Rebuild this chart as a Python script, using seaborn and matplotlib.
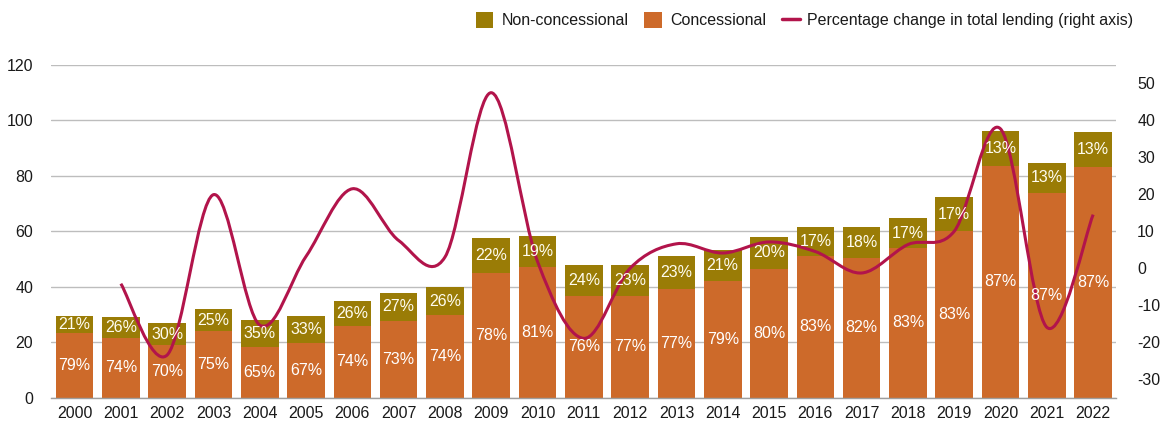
import numpy as np
import pandas as pd
import matplotlib
matplotlib.use("Agg")
import matplotlib.pyplot as plt
import seaborn as sns
from matplotlib.path import Path
from matplotlib.patches import PathPatch, Patch
from matplotlib.lines import Line2D

# ---- data -------------------------------------------------------------
years = [str(y) for y in range(2000, 2023)]
total_lending = [29.5, 28.9, 26.9, 31.8, 27.9, 29.4, 34.9, 37.8, 40.0, 57.4,
                 58.2, 48.0, 47.8, 51.0, 53.4, 58.0, 61.4, 61.4, 64.8, 72.2,
                 96.2, 84.8, 95.8]
concessional_share = [79, 74, 70, 75, 65, 67, 74, 73, 74, 78, 81, 76, 77, 77,
                      79, 80, 83, 82, 83, 83, 87, 87, 87]
nonconcessional_share = [21, 26, 30, 25, 35, 33, 26, 27, 26, 22, 19, 24, 23,
                         23, 21, 20, 17, 18, 17, 17, 13, 13, 13]
change_years = years[1:]
pct_change = [-4.2, -23.5, 19.9, -15.4, 3.2, 21.5, 7.5, 3.0, 47.5, 1.8, -19.0,
              0.0, 6.6, 4.1, 7.1, 4.5, -1.3, 6.4, 10.0, 37.7, -16.0, 14.5]
left_ticks = [0, 20, 40, 60, 80, 100, 120]
right_ticks = [-30, -20, -10, 0, 10, 20, 30, 40, 50]

# ---- style --------------------------------------------------------------
OLIVE = "#9A7C06"
ORANGE = "#CD6A2A"
CRIMSON = "#B2144B"
GRID = "#BDBDBD"
TEXT = "#1A1A1A"
FS = 11.5

sns.set_theme(style="white")
plt.rcParams["font.family"] = ["Liberation Sans", "DejaVu Sans"]
plt.rcParams["axes.unicode_minus"] = False

df = pd.DataFrame({"year": years, "total": total_lending,
                   "conc_share": concessional_share,
                   "non_share": nonconcessional_share})
df["concessional"] = df["total"] * df["conc_share"] / 100.0
df["nonconcessional"] = df["total"] - df["concessional"]

fig = plt.figure(figsize=(11.67, 4.22), dpi=100)
ax = fig.add_axes([51.4 / 1167, 1 - 397.5 / 422, (1116.3 - 51.4) / 1167,
                   (397.5 - 65) / 422])

# stacked bars: full height in olive, concessional part over it in orange
sns.barplot(data=df, x="year", y="total", color=OLIVE, saturation=1,
            width=0.81, linewidth=0, ax=ax, zorder=2)
sns.barplot(data=df, x="year", y="concessional", color=ORANGE, saturation=1,
            width=0.81, linewidth=0, ax=ax, zorder=2)

ax.set_ylim(0, 120)
ax.set_xlim(-0.5, len(years) - 0.5)
ax.set_yticks(left_ticks)
ax.set_xlabel("")
ax.set_ylabel("")
ax.yaxis.grid(True, color=GRID, linewidth=1.0, zorder=0)
ax.set_axisbelow(True)
for side in ["top", "right", "left"]:
    ax.spines[side].set_visible(False)
ax.spines["bottom"].set_color("#9E9E9E")
ax.spines["bottom"].set_linewidth(1.0)
ax.tick_params(axis="both", length=0, labelsize=FS, colors=TEXT)
ax.tick_params(axis="y", pad=13)
ax.tick_params(axis="x", pad=6)

# ---- right axis: smoothed percentage-change line -----------------------
ax2 = ax.twinx()
ax2.set_ylim(-35, 55)
ax2.set_yticks(right_ticks)
ax2.tick_params(axis="y", length=0, labelsize=FS, colors=TEXT, pad=15)
for side in ["top", "right", "left", "bottom"]:
    ax2.spines[side].set_visible(False)
ax2.grid(False)

xs = np.array([years.index(y) for y in change_years], dtype=float)
ys = np.array(pct_change, dtype=float)
pts = np.column_stack([xs, ys])
verts = [tuple(pts[0])]
codes = [Path.MOVETO]
n = len(pts)
for i in range(n - 1):
    p0 = pts[i - 1] if i > 0 else pts[i]
    p1 = pts[i]
    p2 = pts[i + 1]
    p3 = pts[i + 2] if i + 2 < n else pts[i + 1]
    c1 = p1 + (p2 - p0) / 6.0
    c2 = p2 - (p3 - p1) / 6.0
    verts += [tuple(c1), tuple(c2), tuple(p2)]
    codes += [Path.CURVE4, Path.CURVE4, Path.CURVE4]
curve = PathPatch(Path(verts, codes), facecolor="none", edgecolor=CRIMSON,
                  linewidth=2.2, capstyle="butt", joinstyle="round", zorder=3)
ax2.add_patch(curve)

# ---- share labels inside the bar segments (above the line) -------------
for i, row in df.iterrows():
    ax2.text(i, row["concessional"] / 2, f"{row['conc_share']}%",
             transform=ax.transData, ha="center", va="center",
             color="white", fontsize=FS, zorder=5)
    ax2.text(i, row["concessional"] + row["nonconcessional"] / 2,
             f"{row['non_share']}%", transform=ax.transData, ha="center",
             va="center", color="#FFFDF0", fontsize=FS, zorder=5)

# ---- legend ---------------------------------------------------------------
handles = [
    Patch(facecolor=OLIVE, edgecolor="none", label="Non-concessional"),
    Patch(facecolor=ORANGE, edgecolor="none", label="Concessional"),
    Line2D([], [], color=CRIMSON, linewidth=2.5,
           label="Percentage change in total lending (right axis)"),
]
fig.legend(handles=handles, loc="upper right",
           bbox_to_anchor=(1140 / 1167, 1 - 6 / 422), ncol=3, frameon=False,
           fontsize=FS, handlelength=1.1, handleheight=1.1,
           handletextpad=0.5, columnspacing=1.0, borderaxespad=0,
           labelcolor=TEXT)

fig.savefig("out.png", dpi=100, facecolor="white")
